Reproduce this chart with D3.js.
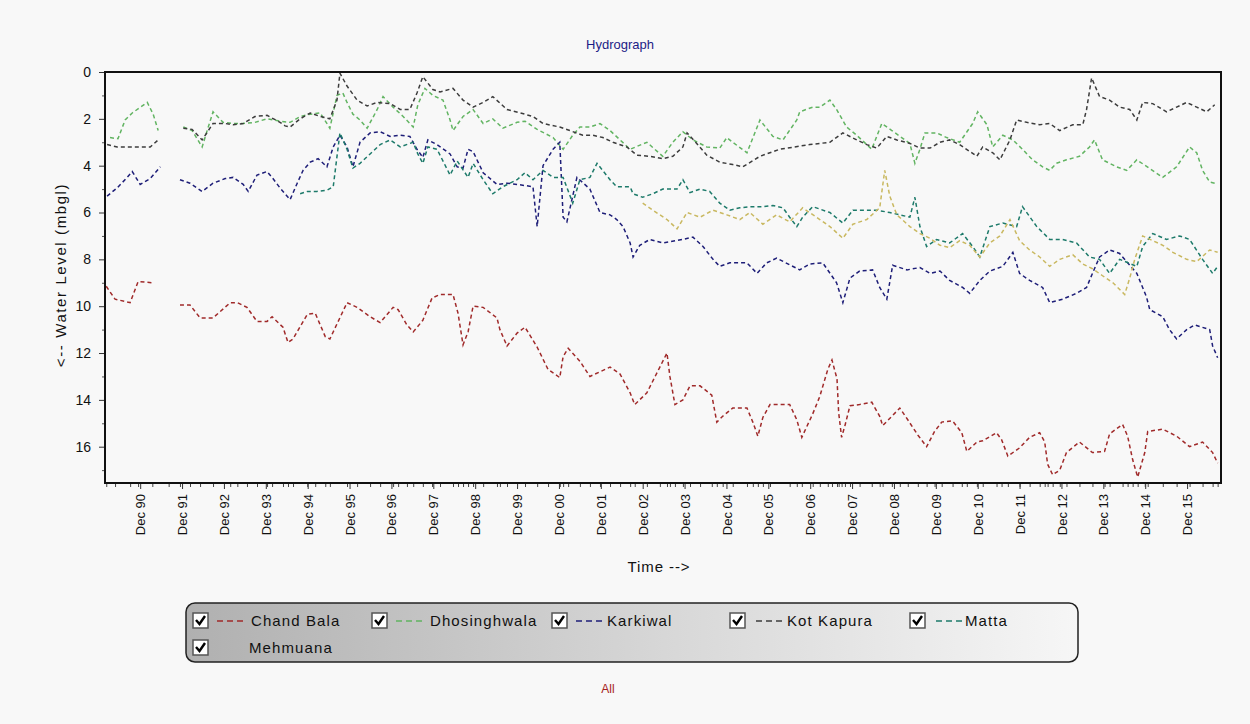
<!DOCTYPE html>
<html><head><meta charset="utf-8">
<script src="https://cdn.jsdelivr.net/npm/d3@7"></script>
<style>
body{margin:0;background:#f8f8f8;}
svg{display:block;font-family:"Liberation Sans",Arial,sans-serif;}
</style>
</head><body>
<svg id="chart" width="1250" height="724"></svg>
<script>
// ---------- DATA (decimal year, water level in mbgl) ----------
const seriesNames = ["Chand Bala","Dhosinghwala","Karkiwal","Kot Kapura","Matta","Mehmuana"];
const xTickLabels = ["Dec 90","Dec 91","Dec 92","Dec 93","Dec 94","Dec 95","Dec 96","Dec 97","Dec 98","Dec 99","Dec 00","Dec 01","Dec 02","Dec 03","Dec 04","Dec 05","Dec 06","Dec 07","Dec 08","Dec 09","Dec 10","Dec 11","Dec 12","Dec 13","Dec 14","Dec 15"];
const xTickYears = [1990.92,1991.92,1992.92,1993.92,1994.92,1995.92,1996.92,1997.92,1998.92,1999.92,2000.92,2001.92,2002.92,2003.92,2004.92,2005.92,2006.92,2007.92,2008.92,2009.92,2010.92,2011.92,2012.92,2013.92,2014.92,2015.92];
const yMajorTicks = [0,2,4,6,8,10,12,14,16];
const yMinorTicks = [1,3,5,7,9,11,13,15,17];

const chandBala = [[1990.11,9.15],[1990.32,9.7],[1990.68,9.85],[1990.87,8.95],[1991.21,9.0],[1991.6,null],[1991.87,9.95],[1992.11,9.95],[1992.35,10.5],[1992.66,10.5],[1993.07,9.85],[1993.24,9.85],[1993.47,10.05],[1993.71,10.65],[1993.95,10.65],[1994.07,10.45],[1994.33,10.9],[1994.45,11.55],[1994.57,11.4],[1994.91,10.35],[1995.10,10.3],[1995.34,11.3],[1995.45,11.4],[1995.86,9.85],[1996.10,10.05],[1996.41,10.45],[1996.65,10.7],[1996.96,10.05],[1997.08,10.15],[1997.29,10.8],[1997.44,11.1],[1997.67,10.6],[1997.89,9.65],[1998.08,9.5],[1998.39,9.5],[1998.51,10.3],[1998.63,11.65],[1998.75,11.1],[1998.87,10.0],[1999.11,10.05],[1999.44,10.5],[1999.51,11.0],[1999.68,11.7],[1999.92,11.15],[2000.11,10.9],[2000.40,11.75],[2000.66,12.7],[2000.94,13.05],[2001.02,12.15],[2001.14,11.8],[2001.42,12.35],[2001.66,13.0],[2001.90,12.8],[2002.14,12.6],[2002.38,12.9],[2002.62,13.7],[2002.73,14.2],[2003.02,13.7],[2003.33,12.6],[2003.50,12.0],[2003.57,13.0],[2003.69,14.2],[2003.88,14.0],[2004.05,13.4],[2004.29,13.4],[2004.57,13.8],[2004.69,14.95],[2004.83,14.7],[2005.07,14.35],[2005.41,14.35],[2005.55,14.95],[2005.67,15.55],[2005.79,14.75],[2005.96,14.2],[2006.43,14.2],[2006.60,14.85],[2006.72,15.6],[2006.98,14.6],[2007.15,13.85],[2007.34,12.7],[2007.44,12.3],[2007.56,13.1],[2007.60,14.55],[2007.67,15.6],[2007.75,15.1],[2007.87,14.25],[2008.10,14.2],[2008.39,14.1],[2008.58,14.7],[2008.65,15.1],[2008.87,14.7],[2009.06,14.35],[2009.25,14.85],[2009.49,15.5],[2009.70,16.0],[2009.89,15.35],[2010.06,14.95],[2010.32,14.9],[2010.54,15.4],[2010.66,16.2],[2010.90,15.8],[2011.04,15.75],[2011.37,15.4],[2011.49,15.7],[2011.64,16.4],[2011.92,16.05],[2012.16,15.6],[2012.40,15.4],[2012.52,15.8],[2012.59,16.75],[2012.71,17.2],[2012.88,17.0],[2013.04,16.25],[2013.35,15.8],[2013.66,16.25],[2013.95,16.2],[2014.07,15.45],[2014.38,15.05],[2014.50,15.55],[2014.62,16.55],[2014.74,17.3],[2014.91,16.25],[2014.98,15.35],[2015.34,15.25],[2015.67,15.55],[2015.98,16.0],[2016.29,15.8],[2016.53,16.25],[2016.65,16.7]];

const dhosinghwala = [[1990.20,2.8],[1990.39,2.85],[1990.56,2.05],[1990.73,1.75],[1991.09,1.3],[1991.23,1.8],[1991.35,2.5],[1991.6,null],[1991.95,2.35],[1992.16,2.5],[1992.40,3.2],[1992.52,2.5],[1992.66,1.7],[1992.90,2.15],[1993.14,2.2],[1993.38,2.2],[1993.66,2.15],[1993.95,2.0],[1994.26,2.1],[1994.50,2.15],[1994.74,1.9],[1994.98,1.8],[1995.22,1.75],[1995.45,2.4],[1995.62,1.0],[1995.76,0.9],[1995.86,1.3],[1996.00,1.8],[1996.17,2.05],[1996.34,2.4],[1996.58,1.6],[1996.72,1.05],[1996.96,1.5],[1997.20,1.9],[1997.44,2.35],[1997.55,1.4],[1997.72,0.7],[1997.91,1.0],[1998.15,1.2],[1998.32,2.05],[1998.39,2.5],[1998.63,1.9],[1998.87,1.6],[1999.11,2.2],[1999.34,2.0],[1999.58,2.4],[1999.92,2.15],[2000.11,2.1],[2000.40,2.45],[2000.78,2.8],[2001.02,3.3],[2001.25,2.7],[2001.42,2.35],[2001.66,2.35],[2001.90,2.2],[2002.14,2.5],[2002.38,2.9],[2002.62,3.3],[2003.02,3.0],[2003.40,3.6],[2003.64,3.0],[2003.88,2.55],[2004.12,2.9],[2004.45,3.2],[2004.76,3.25],[2004.93,2.8],[2005.07,3.0],[2005.41,3.45],[2005.72,2.05],[2006.03,2.75],[2006.27,2.9],[2006.60,2.05],[2006.67,1.7],[2006.98,1.5],[2007.15,1.5],[2007.39,1.2],[2007.55,1.6],[2007.79,2.35],[2008.03,2.7],[2008.39,3.3],[2008.63,2.2],[2008.87,2.5],[2009.30,3.05],[2009.42,3.9],[2009.54,3.3],[2009.66,2.6],[2009.94,2.6],[2010.18,2.8],[2010.49,3.0],[2010.80,2.2],[2010.92,1.7],[2011.14,2.25],[2011.28,3.2],[2011.52,2.7],[2011.76,2.9],[2011.99,3.3],[2012.23,3.75],[2012.47,4.05],[2012.64,4.2],[2012.80,3.9],[2013.04,3.75],[2013.35,3.6],[2013.59,3.2],[2013.71,2.9],[2013.90,3.75],[2014.24,4.05],[2014.48,4.2],[2014.72,3.75],[2015.34,4.5],[2015.67,4.05],[2015.98,3.2],[2016.15,3.45],[2016.29,4.2],[2016.46,4.7],[2016.58,4.75]];

const karkiwal = [[1990.13,5.3],[1990.37,4.95],[1990.61,4.5],[1990.73,4.25],[1990.92,4.8],[1991.16,4.55],[1991.40,4.05],[1991.6,null],[1991.87,4.6],[1992.11,4.75],[1992.40,5.1],[1992.66,4.75],[1992.95,4.55],[1993.14,4.5],[1993.38,4.8],[1993.50,5.1],[1993.71,4.4],[1993.95,4.25],[1994.09,4.55],[1994.26,4.95],[1994.50,5.45],[1994.67,4.75],[1994.81,4.2],[1994.98,3.85],[1995.17,3.7],[1995.38,4.05],[1995.53,3.2],[1995.69,2.7],[1995.86,3.2],[1996.00,4.05],[1996.17,3.0],[1996.41,2.6],[1996.65,2.55],[1996.89,2.75],[1997.13,2.7],[1997.36,2.75],[1997.53,3.3],[1997.67,3.65],[1997.79,2.9],[1998.01,3.1],[1998.32,3.5],[1998.49,4.05],[1998.63,4.1],[1998.75,3.3],[1998.87,3.4],[1999.11,4.3],[1999.44,4.8],[1999.68,4.75],[1999.92,4.8],[2000.30,4.9],[2000.40,6.6],[2000.54,4.0],[2000.78,3.3],[2000.94,3.0],[2001.02,6.2],[2001.11,6.4],[2001.35,4.5],[2001.66,5.0],[2001.90,6.0],[2002.14,6.1],[2002.30,6.3],[2002.45,6.6],[2002.62,7.3],[2002.69,7.9],[2002.85,7.4],[2003.09,7.15],[2003.40,7.3],[2003.88,7.15],[2004.12,7.05],[2004.36,7.45],[2004.60,8.0],[2004.76,8.3],[2005.00,8.15],[2005.41,8.15],[2005.65,8.6],[2005.88,8.15],[2006.12,7.95],[2006.67,8.45],[2006.91,8.2],[2007.22,8.15],[2007.55,9.0],[2007.70,9.85],[2007.87,8.8],[2008.10,8.5],[2008.41,8.45],[2008.58,9.2],[2008.75,9.7],[2008.89,8.25],[2009.23,8.45],[2009.54,8.35],[2009.78,8.6],[2010.02,8.5],[2010.25,8.9],[2010.56,9.2],[2010.73,9.45],[2010.97,8.9],[2011.21,8.5],[2011.52,8.3],[2011.76,7.7],[2011.92,8.6],[2012.16,8.9],[2012.47,9.2],[2012.64,9.85],[2012.95,9.7],[2013.28,9.45],[2013.52,9.2],[2013.66,8.6],[2013.83,7.9],[2014.07,7.6],[2014.31,7.75],[2014.72,8.6],[2014.95,9.6],[2015.03,10.15],[2015.34,10.45],[2015.50,11.0],[2015.67,11.4],[2015.91,11.0],[2016.10,10.8],[2016.46,11.0],[2016.53,11.7],[2016.65,12.2]];

const kotKapura = [[1990.13,3.1],[1990.37,3.2],[1990.61,3.2],[1990.92,3.2],[1991.16,3.2],[1991.35,2.9],[1991.6,null],[1991.95,2.4],[1992.16,2.45],[1992.40,2.9],[1992.66,2.2],[1992.95,2.2],[1993.14,2.25],[1993.38,2.2],[1993.66,1.9],[1993.95,1.85],[1994.26,2.15],[1994.38,2.3],[1994.50,2.35],[1994.74,2.0],[1994.98,1.75],[1995.22,1.9],[1995.45,2.0],[1995.62,1.2],[1995.69,0.05],[1995.86,0.6],[1996.10,1.2],[1996.34,1.45],[1996.58,1.3],[1996.89,1.35],[1997.13,1.6],[1997.36,1.6],[1997.53,0.9],[1997.67,0.2],[1997.91,0.75],[1998.08,0.85],[1998.39,0.7],[1998.63,1.2],[1998.87,1.5],[1999.11,1.3],[1999.34,1.05],[1999.68,1.6],[2000.00,1.75],[2000.30,1.9],[2000.54,2.2],[2000.94,2.35],[2001.18,2.5],[2001.49,2.7],[2001.73,2.7],[2001.97,2.8],[2002.21,3.0],[2002.54,3.2],[2002.78,3.55],[2003.09,3.6],[2003.40,3.7],[2003.64,3.6],[2003.88,3.2],[2003.98,2.6],[2004.21,3.05],[2004.45,3.55],[2004.76,3.85],[2005.07,3.95],[2005.31,4.05],[2005.72,3.6],[2006.19,3.3],[2006.55,3.2],[2006.91,3.1],[2007.39,3.0],[2007.70,2.6],[2008.03,2.9],[2008.27,3.1],[2008.51,3.25],[2008.75,2.75],[2008.99,2.9],[2009.30,3.05],[2009.54,3.25],[2009.78,3.25],[2010.02,3.0],[2010.25,2.9],[2010.49,3.1],[2010.90,3.6],[2011.04,3.2],[2011.28,3.45],[2011.45,3.75],[2011.69,2.9],[2011.85,2.05],[2012.09,2.15],[2012.40,2.25],[2012.64,2.2],[2012.88,2.5],[2013.19,2.25],[2013.43,2.25],[2013.52,1.6],[2013.64,0.25],[2013.83,1.05],[2014.07,1.2],[2014.31,1.5],[2014.55,1.6],[2014.72,2.05],[2014.86,1.3],[2015.10,1.35],[2015.43,1.7],[2015.67,1.5],[2015.91,1.3],[2016.15,1.5],[2016.39,1.7],[2016.58,1.4]];

const matta = [[1994.74,5.2],[1994.91,5.1],[1995.14,5.1],[1995.38,5.05],[1995.53,4.9],[1995.69,2.6],[1995.86,3.3],[1996.00,4.1],[1996.17,3.9],[1996.41,3.5],[1996.65,3.1],[1996.89,2.9],[1997.13,3.2],[1997.44,3.0],[1997.55,3.5],[1997.67,3.9],[1997.79,3.2],[1998.01,3.3],[1998.32,4.4],[1998.49,3.8],[1998.75,4.5],[1998.87,3.9],[1999.11,4.6],[1999.34,5.2],[1999.58,4.9],[1999.92,4.6],[2000.11,4.3],[2000.30,4.6],[2000.54,4.2],[2000.78,4.5],[2001.02,4.5],[2001.25,5.6],[2001.42,4.6],[2001.66,4.5],[2001.83,3.9],[2002.14,4.6],[2002.30,4.9],[2002.62,4.9],[2002.69,5.2],[2002.92,5.35],[2003.16,5.2],[2003.40,5.0],[2003.74,5.0],[2003.88,4.6],[2004.05,5.15],[2004.29,5.0],[2004.52,5.1],[2004.76,5.6],[2005.00,5.9],[2005.24,5.8],[2005.48,5.75],[2005.79,5.75],[2006.03,5.7],[2006.27,5.8],[2006.43,6.2],[2006.60,6.6],[2006.74,6.2],[2006.98,5.75],[2007.39,6.0],[2007.70,6.45],[2007.94,5.9],[2008.51,5.9],[2008.82,6.0],[2009.30,6.2],[2009.42,5.35],[2009.54,6.6],[2009.70,7.45],[2009.94,7.15],[2010.25,7.3],[2010.56,6.9],[2010.80,7.45],[2010.97,7.9],[2011.21,6.6],[2011.52,6.45],[2011.85,6.6],[2011.99,5.75],[2012.33,6.6],[2012.64,7.15],[2012.95,7.15],[2013.28,7.3],[2013.59,7.9],[2013.83,8.0],[2014.07,8.6],[2014.31,8.0],[2014.72,8.3],[2014.86,7.45],[2015.10,6.9],[2015.43,7.15],[2015.74,7.0],[2015.98,7.15],[2016.29,8.0],[2016.53,8.6],[2016.65,8.3]];

const mehmuana = [[2002.92,5.6],[2003.16,5.9],[2003.50,6.3],[2003.74,6.7],[2003.98,6.0],[2004.29,6.2],[2004.60,5.9],[2004.93,6.1],[2005.24,6.3],[2005.48,6.0],[2005.79,6.5],[2006.12,6.1],[2006.43,6.4],[2006.74,5.8],[2007.15,6.3],[2007.39,6.6],[2007.70,7.1],[2007.94,6.5],[2008.27,6.3],[2008.58,5.8],[2008.70,4.2],[2008.82,5.3],[2008.99,6.1],[2009.30,6.6],[2009.54,6.9],[2009.78,7.1],[2010.02,7.4],[2010.25,7.5],[2010.49,7.2],[2010.73,7.4],[2010.97,7.9],[2011.21,7.3],[2011.45,7.0],[2011.69,6.3],[2011.92,7.2],[2012.16,7.6],[2012.40,7.9],[2012.64,8.3],[2012.88,8.0],[2013.19,7.8],[2013.43,8.2],[2013.66,8.4],[2013.90,8.7],[2014.15,9.0],[2014.43,9.5],[2014.55,8.8],[2014.67,8.0],[2014.86,7.0],[2015.10,7.2],[2015.34,7.4],[2015.58,7.7],[2015.91,8.0],[2016.15,8.1],[2016.46,7.6],[2016.65,7.7]];

const seriesData = [chandBala, dhosinghwala, karkiwal, kotKapura, matta, mehmuana];
const seriesColors = ["#a02a2a","#62b462","#1e1e78","#3c3c3c","#1d7a6a","#c9b860"];
const legendShowsLine = [true,true,true,true,true,false];

// ---------- CHART ----------
const svg = d3.select("#chart");
const W = 1250, H = 724;
const plot = {left:105, top:72, right:1221, bottom:483};

const x = d3.scaleLinear().domain([1990.08, 2016.73]).range([plot.left, plot.right]);
const y = d3.scaleLinear().domain([0, 17.55]).range([plot.top, plot.bottom]);

svg.append("rect").attr("width",W).attr("height",H).attr("fill","#f8f8f8");

// title
svg.append("text").attr("x",620).attr("y",49).attr("text-anchor","middle")
  .attr("font-size",13).attr("fill","#1c1c86").text("Hydrograph");

const defs = svg.append("defs");
defs.append("clipPath").attr("id","clip")
  .append("rect").attr("x",plot.left).attr("y",plot.top-1)
  .attr("width",plot.right-plot.left).attr("height",plot.bottom-plot.top+2);

// lines
const line = d3.line().defined(d=>d[1]!==null).x(d=>x(d[0])).y(d=>y(d[1]));
const g = svg.append("g").attr("clip-path","url(#clip)");
seriesData.forEach((s,i)=>{
  g.append("path").datum(s).attr("d",line).attr("fill","none")
    .attr("stroke",seriesColors[i]).attr("stroke-width",1.5)
    .attr("stroke-dasharray","4,3");
});

// y axis
const yAxis = svg.append("g").attr("transform",`translate(${plot.left},0)`)
  .call(d3.axisLeft(y).tickValues(yMajorTicks).tickSize(6).tickPadding(8).tickFormat(d3.format("d")));
yAxis.select(".domain").remove();
yAxis.selectAll("text").attr("font-size",14).attr("fill","#111").attr("font-family","Liberation Sans, Arial");
yAxis.selectAll("line").attr("stroke","#333");
const yMinor = svg.append("g").attr("transform",`translate(${plot.left},0)`)
  .call(d3.axisLeft(y).tickValues(yMinorTicks.filter(v=>v<17.5)).tickSize(3).tickFormat(""));
yMinor.select(".domain").remove();
yMinor.selectAll("line").attr("stroke","#555");

// x axis
const xAxis = svg.append("g").attr("transform",`translate(0,${plot.bottom})`)
  .call(d3.axisBottom(x).tickValues(xTickYears).tickSize(6).tickFormat((d,i)=>xTickLabels[i]));
xAxis.select(".domain").remove();
xAxis.selectAll("line").attr("stroke","#333");
xAxis.selectAll("text")
  .attr("font-size",13).attr("fill","#111").attr("font-family","Liberation Sans, Arial")
  .attr("text-anchor","end").attr("x",0).attr("y",0).attr("dy","0.35em")
  .attr("transform","translate(0,11) rotate(-90)");
const xMinor = svg.append("g").attr("transform",`translate(0,${plot.bottom})`)
  .call(d3.axisBottom(x).tickValues(chandBala.map(d=>d[0])).tickSize(4).tickFormat(""));
xMinor.select(".domain").remove();
xMinor.selectAll("line").attr("stroke","#444");

// frame
svg.append("rect").attr("x",plot.left).attr("y",plot.top)
  .attr("width",plot.right-plot.left).attr("height",plot.bottom-plot.top)
  .attr("fill","none").attr("stroke","#111").attr("stroke-width",2);

// axis titles
svg.append("text").attr("transform","translate(66,275) rotate(-90)")
  .attr("text-anchor","middle").attr("font-size",15).attr("letter-spacing",1.6).attr("fill","#111")
  .text("<-- Water Level (mbgl)");
svg.append("text").attr("x",659).attr("y",572).attr("text-anchor","middle")
  .attr("font-size",15).attr("letter-spacing",0.9).attr("fill","#111").text("Time -->");

// legend
const grad = defs.append("linearGradient").attr("id","lg")
  .attr("x1","0%").attr("x2","100%").attr("y1","0%").attr("y2","0%");
grad.append("stop").attr("offset","0%").attr("stop-color","#b0b0b0");
grad.append("stop").attr("offset","55%").attr("stop-color","#d8d8d8");
grad.append("stop").attr("offset","100%").attr("stop-color","#f6f6f6");
svg.append("rect").attr("x",186).attr("y",603).attr("width",892).attr("height",59)
  .attr("rx",9).attr("fill","url(#lg)").attr("stroke","#222").attr("stroke-width",1.5);

const legendPos = [
  {bx:193,by:613,lx:217,tx:251},
  {bx:372,by:613,lx:396,tx:430},
  {bx:552,by:613,lx:576,tx:607},
  {bx:730,by:613,lx:756,tx:787},
  {bx:910,by:613,lx:936,tx:965},
  {bx:193,by:640,lx:217,tx:249}
];
seriesNames.forEach((name,i)=>{
  const p = legendPos[i];
  const lg = svg.append("g");
  lg.append("rect").attr("x",p.bx).attr("y",p.by).attr("width",15).attr("height",15)
    .attr("fill","#fff").attr("stroke","#555").attr("stroke-width",1.5);
  lg.append("path").attr("d",`M${p.bx+3},${p.by+7} L${p.bx+6.5},${p.by+11} L${p.bx+12},${p.by+3}`)
    .attr("fill","none").attr("stroke","#000").attr("stroke-width",2.4);
  if (legendShowsLine[i]) {
    lg.append("line").attr("x1",p.lx).attr("x2",p.lx+29).attr("y1",p.by+8).attr("y2",p.by+8)
      .attr("stroke",seriesColors[i]).attr("stroke-width",1.5).attr("stroke-dasharray","6,4");
  }
  lg.append("text").attr("x",p.tx).attr("y",p.by+13).attr("font-size",15)
    .attr("letter-spacing",1.1).attr("fill","#111").text(name);
});

// bottom label
svg.append("text").attr("x",608).attr("y",693).attr("text-anchor","middle")
  .attr("font-size",12).attr("fill","#a52020").text("All");
</script>
</body></html>
